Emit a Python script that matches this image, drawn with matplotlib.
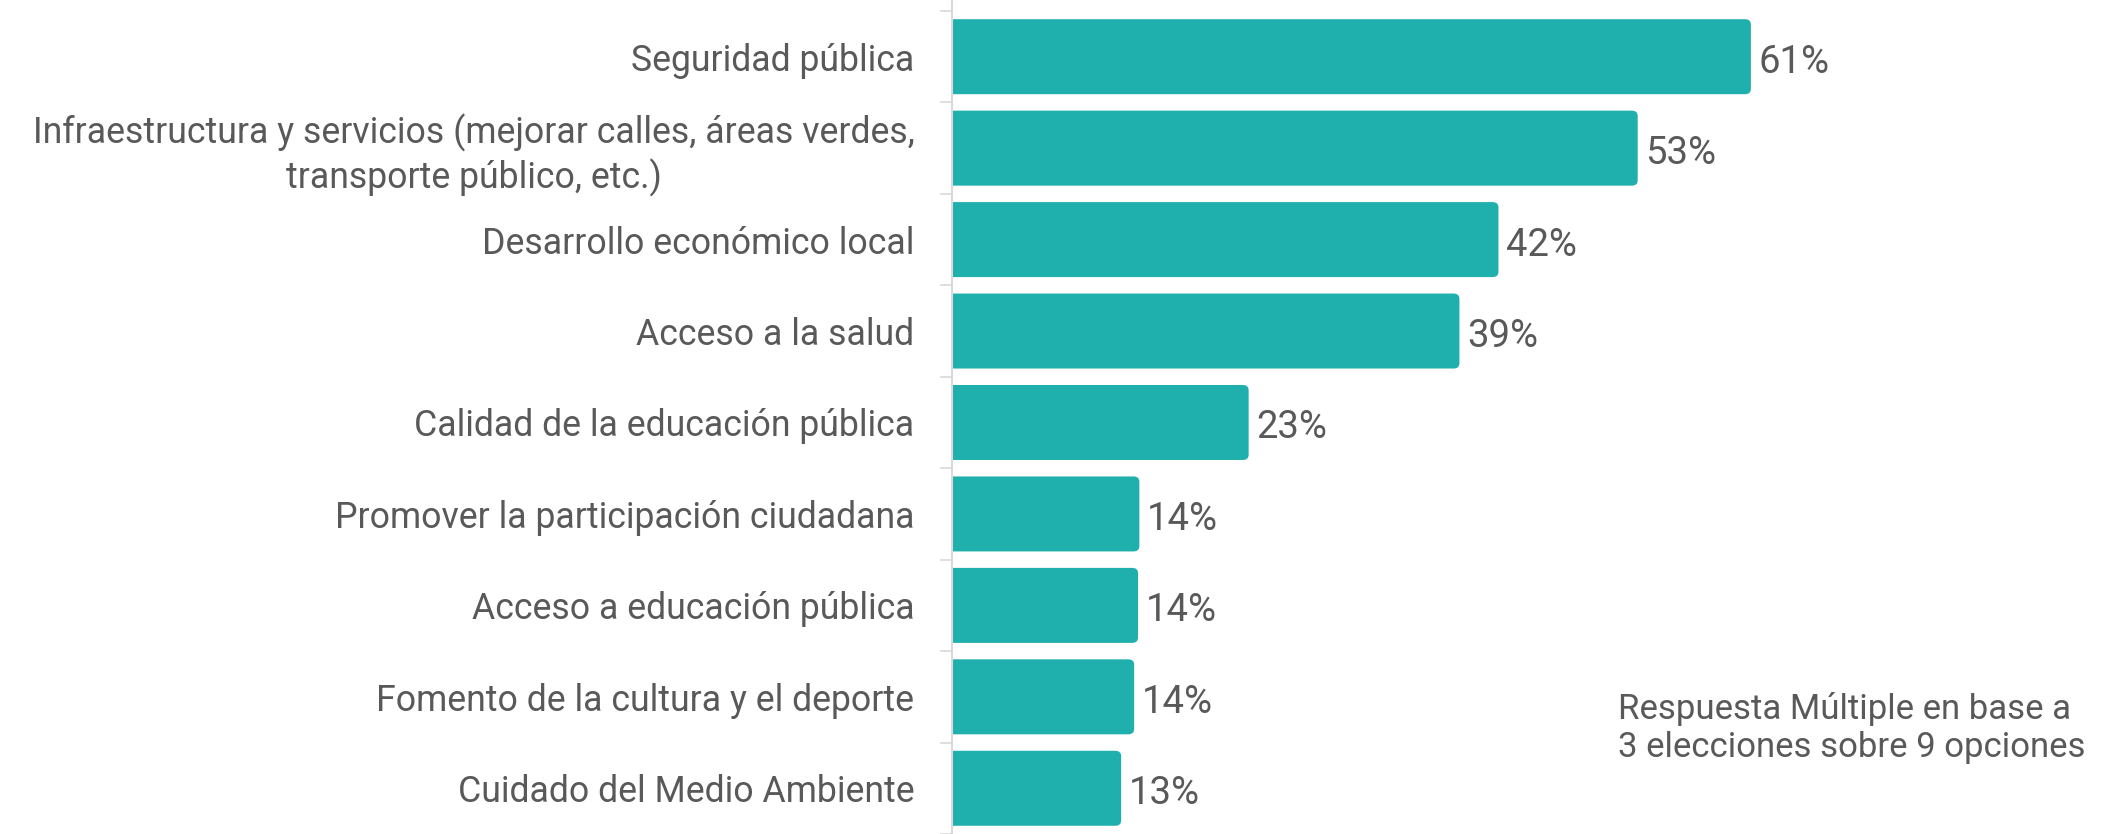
import numpy as np
import matplotlib.pyplot as plt
from matplotlib.patches import FancyBboxPatch

# Respuesta múltiple: prioridades (% de menciones)
categories = [
    "Seguridad pública",
    "Infraestructura y servicios (mejorar calles, áreas verdes,\ntransporte público, etc.)",
    "Desarrollo económico local",
    "Acceso a la salud",
    "Calidad de la educación pública",
    "Promover la participación ciudadana",
    "Acceso a educación pública",
    "Fomento de la cultura y el deporte",
    "Cuidado del Medio Ambiente",
]
values = [61.4, 52.7, 42.0, 39.0, 22.8, 14.4, 14.3, 14.0, 13.0]
value_labels = ["61%", "53%", "42%", "39%", "23%", "14%", "14%", "14%", "13%"]
note = "Respuesta Múltiple en base a\n3 elecciones sobre 9 opciones"

bar_color = "#1fafad"
text_color = "#595959"
plt.rcParams["font.family"] = ["Roboto", "DejaVu Sans"]

W, H, DPI = 2123, 834, 100
fig = plt.figure(figsize=(W / DPI, H / DPI), dpi=DPI)
ax_left = 952 / W
ax = fig.add_axes([ax_left, 0, 1 - ax_left, 1])

pos = np.arange(len(categories))
bars = ax.barh(pos, values, height=0.82, left=0, color=bar_color)

# swap plain bars for slightly rounded ones (left corners hidden behind the axis)
for b in bars:
    b.set_visible(False)
    p = FancyBboxPatch((b.get_x() - 1.0, b.get_y()), b.get_width() + 1.0, b.get_height(),
                       boxstyle="round,pad=0,rounding_size=0.45", mutation_aspect=0.13,
                       facecolor=bar_color, edgecolor="none", zorder=2)
    ax.add_patch(p)

for y, v, lab in zip(pos, values, value_labels):
    ax.text(v + 0.6, y + 0.06, lab, va="center", ha="left", fontsize=27.5, color=text_color)

ax.set_xlim(0, 90)
ax.set_ylim(8.446, -0.62)

ax.set_yticks(pos)
ax.set_yticklabels(categories, fontsize=25.7, color=text_color, ha="right", linespacing=1.2)
for t in ax.get_yticklabels():
    t.set_multialignment("center")
ax.tick_params(axis="y", which="major", length=0, pad=27)
ax.set_yticks(np.arange(-0.5, len(categories), 1.0), minor=True)
ax.tick_params(axis="y", which="minor", length=8.5, width=1.2, color="#d9d9d9", direction="out")
ax.set_xticks([])

for s in ["top", "right", "bottom"]:
    ax.spines[s].set_visible(False)
ax.spines["left"].set_color("#d9d9d9")
ax.spines["left"].set_linewidth(1.5)

fig.text(1618 / W, 1 - 728 / H, note, ha="left", va="center", fontsize=25,
         color=text_color, linespacing=1.2)

fig.savefig("out.png", dpi=DPI)
